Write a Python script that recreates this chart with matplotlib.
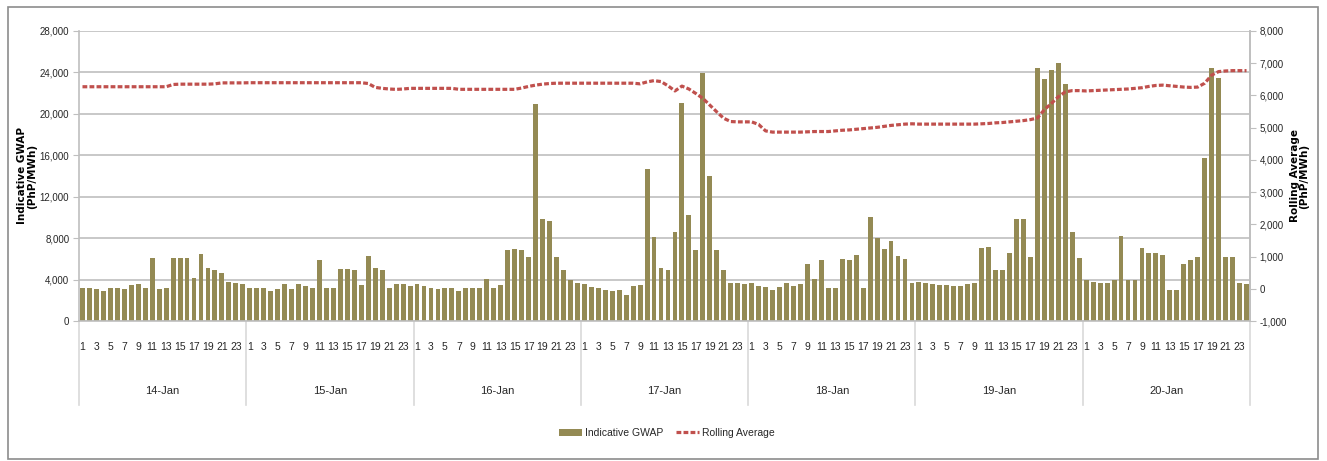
import numpy as np
import matplotlib
matplotlib.use("Agg")
import matplotlib.pyplot as plt
from matplotlib import font_manager
from matplotlib.ticker import FuncFormatter
from matplotlib.patches import Rectangle

# data (hourly, 14-Jan .. 20-Jan)
days = ["14-Jan", "15-Jan", "16-Jan", "17-Jan", "18-Jan", "19-Jan", "20-Jan"]
hours = list(range(1, 25))

gwap_14 = [3230, 3230, 3100, 2900, 3230, 3230, 3100, 3490, 3620, 3230, 6070, 3100,
           3230, 6070, 6070, 6070, 4200, 6460, 5100, 4880, 4680, 3780, 3680, 3590]
gwap_15 = [3230, 3230, 3230, 2900, 3100, 3590, 3100, 3590, 3420, 3230, 5850, 3230,
           3230, 5000, 5000, 4880, 3520, 6230, 5100, 4970, 3230, 3590, 3590, 3420]
gwap_16 = [3620, 3390, 3200, 3100, 3200, 3200, 2900, 3200, 3200, 3200, 4100, 3200,
           3490, 6820, 6950, 6820, 6140, 20930, 9820, 9690, 6140, 4970, 3940, 3680]
gwap_17 = [3590, 3260, 3170, 3000, 2900, 3000, 2490, 3360, 3460, 14630, 8110, 5070,
           4970, 8590, 21060, 10210, 6850, 23970, 14020, 6850, 4970, 3680, 3680, 3590]
gwap_18 = [3680, 3390, 3260, 3000, 3260, 3680, 3390, 3590, 5460, 4100, 5850, 3200,
           3200, 6010, 5850, 6360, 3200, 10080, 7980, 6950, 7720, 6270, 5940, 3680]
gwap_19 = [3780, 3680, 3620, 3520, 3520, 3390, 3390, 3620, 3710, 7070, 7140, 4970,
           4970, 6560, 9820, 9820, 6170, 24390, 23350, 24190, 24870, 22900, 8590, 6070]
gwap_20 = [3940, 3780, 3680, 3680, 3940, 8200, 3940, 3940, 7070, 6560, 6560, 6330,
           3000, 3000, 5460, 5850, 6170, 15700, 24390, 23420, 6170, 6170, 3680, 3590]

roll_14 = [6270] * 13 + [6340, 6350, 6350, 6350, 6350, 6350, 6360] + [6390] * 4
roll_15 = [6395] * 17 + [6370, 6250, 6220, 6200, 6188, 6200, 6220]
roll_16 = [6220] * 6 + [6190] * 9 + [6230, 6280, 6320, 6350, 6370] + [6380] * 4
roll_17 = [6380] * 8 + [6360, 6420, 6460, 6430, 6300, 6140, 6290, 6200, 6060, 5910,
                        5700, 5490, 5290, 5190, 5180, 5180]
roll_18 = [5180, 5100, 4900, 4862, 4862, 4862, 4862, 4862, 4870, 4880, 4880, 4880,
           4900, 4920, 4930, 4950, 4970, 4990, 5010, 5040, 5070, 5090, 5110, 5120]
roll_19 = [5110] * 9 + [5120, 5130, 5150, 5160, 5180, 5200, 5220, 5250, 5300, 5560,
                        5750, 5960, 6110, 6150, 6150]
roll_20 = [6140, 6150, 6160, 6170, 6180, 6190, 6200, 6220, 6240, 6280, 6310, 6320,
           6300, 6280, 6260, 6250, 6260, 6380, 6630, 6740, 6760, 6770, 6770, 6770]

gwap = gwap_14 + gwap_15 + gwap_16 + gwap_17 + gwap_18 + gwap_19 + gwap_20
roll = roll_14 + roll_15 + roll_16 + roll_17 + roll_18 + roll_19 + roll_20

bar_color = "#948A54"
line_color = "#C0504D"
grid_color = "#BFBFBF"
text_color = "#262626"
W, H = 1327, 461

plt.rcParams['font.family'] = ['Liberation Sans', 'DejaVu Sans']


def fp(size):
    return font_manager.FontProperties(family=['Liberation Sans', 'DejaVu Sans'], size=size)


fig = plt.figure(figsize=(W / 100, H / 100), dpi=100)
fig.patches.append(Rectangle((8 / W, 2 / H), 1310 / W, (H - 9) / H, transform=fig.transFigure,
                             fill=False, edgecolor="#8C8C8C", lw=1.2))

ax = fig.add_axes([79 / W, 1 - 321 / H, (1250 - 79) / W, (321 - 31) / H])
x = np.arange(len(gwap))
bars = ax.bar(x, gwap, width=0.7, color=bar_color, zorder=2, label="Indicative GWAP")
ax.set_xlim(-0.5, len(gwap) - 0.5)
ax.set_ylim(0, 28000)
ax.set_yticks(range(0, 28001, 4000))
ax.yaxis.set_major_formatter(FuncFormatter(lambda v, p: f"{int(v):,}"))
ax.grid(axis="y", color=grid_color, lw=1.2, zorder=0)
ax.set_axisbelow(True)

# hour tick labels (odd hours only)
ticks = [d * 24 + h - 1 for d in range(len(days)) for h in hours if h % 2 == 1]
ax.set_xticks(ticks)
ax.set_xticklabels([str(t % 24 + 1) for t in ticks])
ax.tick_params(axis="x", length=0, pad=15, colors=text_color)
ax.tick_params(axis="y", length=4, pad=3, color=grid_color, labelcolor=text_color)
for lab in ax.get_xticklabels():
    lab.set_fontproperties(fp(7.5))
for lab in ax.get_yticklabels():
    lab.set_fontproperties(fp(7))

ax.spines["top"].set_visible(False)
for s in ["left", "right", "bottom"]:
    ax.spines[s].set_color(grid_color)
    ax.spines[s].set_linewidth(1.2)

# day separators and date labels
trans = ax.get_xaxis_transform()
for d in range(len(days) + 1):
    ax.plot([d * 24 - 0.5] * 2, [0, -0.29], transform=trans, color="#D9D9D9", lw=1.2, clip_on=False)
for d, name in enumerate(days):
    ax.text(d * 24 + 11.5, -0.24, name, transform=trans, ha="center", va="center",
            fontproperties=fp(8), color=text_color)

ax.set_ylabel("Indicative GWAP\n(PhP/MWh)", family="DejaVu Sans", fontweight="bold",
              fontsize=7.5, linespacing=0.95, color="black")
ax.yaxis.set_label_coords(-0.036, 0.5)

ax2 = ax.twinx()
line, = ax2.plot(x, roll, color=line_color, lw=2.3, linestyle=(0, (1.5, 0.7)),
                 zorder=3, label="Rolling Average")
ax2.set_ylim(-1000, 8000)
ax2.set_yticks(range(-1000, 8001, 1000))
ax2.yaxis.set_major_formatter(FuncFormatter(lambda v, p: f"{int(v):,}"))
ax2.tick_params(axis="y", length=4, pad=3, color=grid_color, labelcolor=text_color)
for lab in ax2.get_yticklabels():
    lab.set_fontproperties(fp(7))
for s in ["top", "left", "bottom"]:
    ax2.spines[s].set_visible(False)
ax2.spines["right"].set_color(grid_color)
ax2.spines["right"].set_linewidth(1.2)
ax2.set_ylabel("Rolling Average\n(PhP/MWh)", family="DejaVu Sans", fontweight="bold",
               fontsize=7.5, linespacing=0.95, color="black")
ax2.yaxis.set_label_coords(1.034, 0.5)

fig.legend(handles=[bars, line], loc="center", bbox_to_anchor=(667 / W, 1 - 433 / H),
           ncol=2, frameon=False, prop=fp(7.5), handlelength=2.2, columnspacing=1.2,
           handletextpad=0.3, labelcolor=text_color)

fig.savefig("out.png", dpi=100)
